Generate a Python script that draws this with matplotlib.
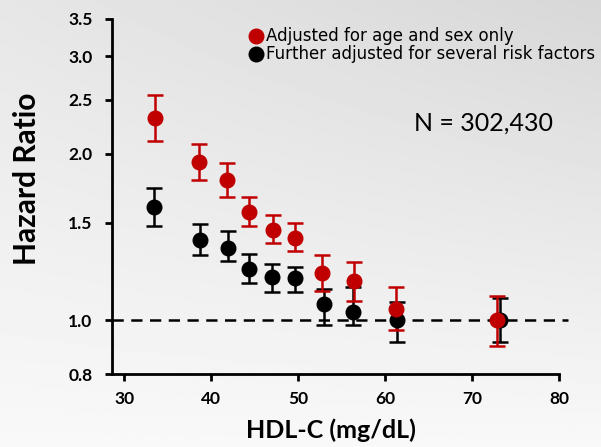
import matplotlib.pyplot as plt
import numpy as np
from matplotlib.ticker import FixedLocator, NullLocator, FormatStrFormatter

# HDL-C bins (mg/dL) and hazard ratios with 95% CI
hdl_age_sex = [33.5, 38.6, 41.8, 44.4, 47.1, 49.6, 52.7, 56.4, 61.3, 72.9]
hr_age_sex = [2.32, 1.93, 1.79, 1.57, 1.455, 1.41, 1.22, 1.18, 1.05, 1.0]
lo_age_sex = [2.11, 1.79, 1.67, 1.48, 1.38, 1.335, 1.13, 1.085, 0.96, 0.90]
hi_age_sex = [2.55, 2.08, 1.92, 1.67, 1.55, 1.50, 1.31, 1.275, 1.15, 1.105]

hdl_full = [33.4, 38.7, 41.9, 44.3, 47.0, 49.7, 53.0, 56.3, 61.4, 73.2]
hr_full = [1.60, 1.395, 1.35, 1.24, 1.195, 1.19, 1.07, 1.037, 1.0, 1.0]
lo_full = [1.48, 1.31, 1.28, 1.17, 1.125, 1.124, 0.982, 0.98, 0.915, 0.914]
hi_full = [1.73, 1.495, 1.45, 1.32, 1.265, 1.25, 1.14, 1.147, 1.08, 1.096]

yticks = [0.8, 1.0, 1.5, 2.0, 2.5, 3.0, 3.5]
xticks = [30, 40, 50, 60, 70, 80]

red = "#c00000"

fig = plt.figure(figsize=(6.01, 4.47), dpi=100)

# soft grey background, lighter towards the bottom
bg = fig.add_axes([0, 0, 1, 1], zorder=-1)
yy, xx = np.mgrid[0:1:200j, 0:1:200j]
shade = 0.975 - 0.13 * yy * (0.55 + 0.45 * xx)
bg.imshow(shade, cmap="gray", vmin=0, vmax=1, aspect="auto",
          origin="lower", extent=[0, 1, 0, 1])
bg.axis("off")

ax = fig.add_axes([0.1864, 0.1633, 0.7436, 0.7942])
ax.patch.set_alpha(0)

ax.set_yscale("log")
ax.set_ylim(0.8, 3.5)
ax.set_xlim(28.6, 80)

ax.plot([28.6, 81], [1, 1], ls=(0, (4.5, 3)), color="black", lw=1.8,
        clip_on=False, zorder=1)


def draw(x, y, lo, hi, color, label):
    err = [np.array(y) - np.array(lo), np.array(hi) - np.array(y)]
    ax.errorbar(x, y, yerr=err, fmt="o", color=color, ms=10.5,
                elinewidth=1.8, capsize=5.5, capthick=1.8, label=label,
                zorder=3)


draw(hdl_full, hr_full, lo_full, hi_full, "black",
     "Further adjusted for several risk factors")
draw(hdl_age_sex, hr_age_sex, lo_age_sex, hi_age_sex, red,
     "Adjusted for age and sex only")

ax.yaxis.set_major_locator(FixedLocator(yticks))
ax.yaxis.set_minor_locator(NullLocator())
ax.yaxis.set_major_formatter(FormatStrFormatter("%.1f"))
ax.set_xticks(xticks)

for side in ["top", "right"]:
    ax.spines[side].set_visible(False)
for side in ["left", "bottom"]:
    ax.spines[side].set_linewidth(2)

ax.tick_params(width=2, length=5, labelsize=12.5, direction="out")
ax.tick_params(axis="y", pad=9)
ax.tick_params(axis="x", pad=7)
for lab in ax.get_xticklabels() + ax.get_yticklabels():
    lab.set_fontfamily("Lato")
    lab.set_fontweight("bold")

ax.set_ylabel("Hazard Ratio", fontsize=21.5, fontweight="bold",
              family="Lato")
ax.yaxis.set_label_coords(-0.16, 0.55)
ax.set_xlabel("HDL-C (mg/dL)", fontsize=18, fontweight="bold",
              family="Lato", labelpad=10)
ax.xaxis.set_label_coords(0.49, -0.125)

handles, labels = ax.get_legend_handles_labels()
leg = ax.legend([h[0] for h in handles[::-1]], labels[::-1],
                loc="upper left", bbox_to_anchor=(0.284, 0.995),
                frameon=False, fontsize=12, handletextpad=0.0,
                handlelength=1.2, labelspacing=0.0, borderaxespad=0,
                markerscale=1.0)

ax.text(0.676, 0.707, "N = 302,430", transform=ax.transAxes,
        fontsize=18, family="Lato", ha="left", va="center")

fig.savefig("out.png", dpi=100)
